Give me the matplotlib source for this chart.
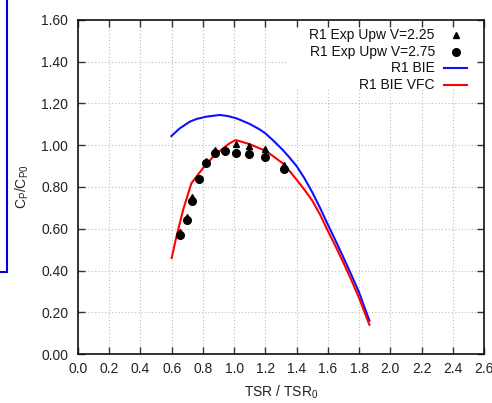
import matplotlib
matplotlib.use("Agg")
import matplotlib.pyplot as plt
from matplotlib.patches import Rectangle
from matplotlib.lines import Line2D

plt.rcParams['font.family'] = ['Liberation Sans', 'DejaVu Sans']
plt.rcParams['mathtext.fontset'] = 'custom'
plt.rcParams['mathtext.rm'] = 'Liberation Sans'

# Experimental data
tsr_exp = [0.655, 0.695, 0.73, 0.775, 0.82, 0.875, 0.94, 1.015, 1.095, 1.195, 1.32]
cp_v225 = [0.585, 0.655, 0.75, 0.845, 0.925, 0.977, 0.983, 1.005, 0.998, 0.983, 0.906]
cp_v275 = [0.572, 0.643, 0.735, 0.836, 0.913, 0.962, 0.972, 0.965, 0.956, 0.945, 0.886]

# BIE model
tsr_bie = [0.598, 0.65, 0.716, 0.76, 0.822, 0.907, 0.96, 1.014, 1.05, 1.10, 1.163, 1.20,
           1.25, 1.312, 1.35, 1.40, 1.45, 1.50, 1.55, 1.60, 1.65, 1.70, 1.75, 1.80, 1.866]
cp_bie = [1.044, 1.080, 1.113, 1.126, 1.137, 1.145, 1.140, 1.129, 1.118, 1.102, 1.076, 1.057,
          1.023, 0.977, 0.945, 0.900, 0.842, 0.775, 0.700, 0.620, 0.542, 0.462, 0.380, 0.295, 0.160]

# BIE VFC model
tsr_vfc = [0.60, 0.625, 0.673, 0.726, 0.80, 0.875, 0.97, 1.01, 1.10, 1.163, 1.20, 1.312,
           1.36, 1.418, 1.45, 1.50, 1.55, 1.60, 1.65, 1.70, 1.75, 1.80, 1.866]
cp_vfc = [0.46, 0.545, 0.69, 0.818, 0.89, 0.953, 1.009, 1.025, 1.005, 0.985, 0.975, 0.913,
          0.872, 0.818, 0.787, 0.735, 0.668, 0.590, 0.515, 0.437, 0.355, 0.268, 0.140]

x_ticks = [0.0, 0.2, 0.4, 0.6, 0.8, 1.0, 1.2, 1.4, 1.6, 1.8, 2.0, 2.2, 2.4, 2.6]
y_ticks = [0.0, 0.2, 0.4, 0.6, 0.8, 1.0, 1.2, 1.4, 1.6]

labels = ["R1 Exp Upw V=2.25", "R1 Exp Upw V=2.75", "R1 BIE", "R1 BIE VFC"]

W, H = 492, 403
fig = plt.figure(figsize=(W / 100, H / 100), dpi=100)
pos = [78 / W, (H - 354) / H, (484 - 78) / W, (354 - 20) / H]
ax = fig.add_axes(pos)

ax.set_xlim(0, 2.6)
ax.set_ylim(0, 1.6)
ax.set_xticks(x_ticks)
ax.set_yticks(y_ticks)
ax.set_xticklabels([f"{v:.1f}" for v in x_ticks])
ax.set_yticklabels([f"{v:.2f}" for v in y_ticks])
ax.tick_params(length=0, labelsize=10, colors='#222222', pad=7)
ax.tick_params(axis='x', pad=6)
ax.grid(True, linestyle=(0, (1, 2)), color='#bbbbbb', linewidth=0.8)
ax.set_axisbelow(True)
for s in ax.spines.values():
    s.set_visible(False)

# white legend background covering grid
ax.add_patch(Rectangle((0.517, 0.79), 0.483, 0.21, transform=ax.transAxes,
                       facecolor='white', edgecolor='none', zorder=1))

ax.plot(tsr_bie, cp_bie, color='#1010ff', lw=1.5, zorder=3)
ax.plot(tsr_vfc, cp_vfc, color='#ff0000', lw=1.5, zorder=3)
ax.plot(tsr_exp, cp_v225, linestyle='none', marker='^', ms=5, color='black', zorder=4)
ax.plot(tsr_exp, cp_v275, linestyle='none', marker='o', ms=5.5, color='black', zorder=4)

ax.set_xlabel(r'TSR / TSR$\mathregular{_0}$', fontsize=10, color='#222222', labelpad=5)
ax.set_ylabel(r'C$\mathregular{_P}$/C$\mathregular{_{P0}}$', fontsize=10, color='#222222', labelpad=7)

# legend (gnuplot style: right-aligned text, sample on the right)
rows = [0.955, 0.905, 0.855, 0.805]
for lab, yy in zip(labels, rows):
    ax.text(0.879, yy, lab, transform=ax.transAxes, ha='right', va='center',
            fontsize=10, color='#111111', zorder=5)
ax.add_line(Line2D([0.931], [rows[0]], transform=ax.transAxes, marker='^', ms=5,
                   color='black', linestyle='none', zorder=5))
ax.add_line(Line2D([0.931], [rows[1]], transform=ax.transAxes, marker='o', ms=5.5,
                   color='black', linestyle='none', zorder=5))
ax.add_line(Line2D([0.901, 0.958], [rows[2]] * 2, transform=ax.transAxes,
                   color='#1010ff', lw=1.5, zorder=5))
ax.add_line(Line2D([0.901, 0.958], [rows[3]] * 2, transform=ax.transAxes,
                   color='#ff0000', lw=1.5, zorder=5))

# overlay axes for inward ticks and frame (drawn above legend box)
ax2 = fig.add_axes(pos, sharex=ax, sharey=ax)
ax2.patch.set_visible(False)
ax2.tick_params(direction='in', length=5, width=1, top=True, right=True,
                labelbottom=False, labelleft=False, color='#333333')
for s in ax2.spines.values():
    s.set_linewidth(1.2)
    s.set_color('#111111')

# partial frame of a neighbouring panel at the left edge
fig.add_artist(Rectangle((-10 / W, (H - 272) / H), 16.5 / W, 300 / H,
                         transform=fig.transFigure, facecolor='none',
                         edgecolor='#0000dd', lw=1.5, clip_on=False))

fig.savefig('out.png', dpi=100)
